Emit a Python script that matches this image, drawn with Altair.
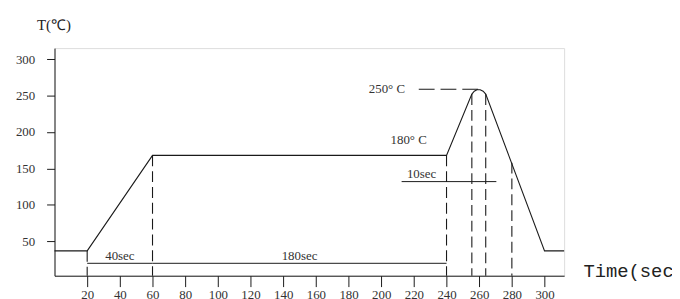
import altair as alt
import pandas as pd

# Temperature profile (time in sec, temperature in °C)
profile_time = [0, 20, 60, 240, 255.5, 257, 258.6, 260.6, 262.4, 264, 300, 312]
profile_temp = [37, 37, 168, 168, 252, 256, 258, 258, 256, 252, 37, 37]

# Dashed vertical guide lines
guide_x = [20, 60, 240, 255.5, 264, 280]
guide_top = [37, 168, 168, 252, 252, 158]
guide_bottom = [3, 3, 3, 3, 3, 3]

# Solid interval lines (40sec, 180sec, 10sec)
span_x1 = [20, 60, 212.5]
span_x2 = [60, 240, 270.5]
span_y = [20, 20, 132]

# Dashed peak temperature line
peak_x1 = [223]
peak_x2 = [261]
peak_y = [258.5]

# Annotation texts
label_text = ["40sec", "180sec", "10sec", "180° C", "250° C"]
label_x = [40, 150, 224.7, 216.8, 203.5]
label_y = [30, 30, 142.7, 189, 258.5]

x_ticks = [20, 40, 60, 80, 100, 120, 140, 160, 180, 200, 220, 240, 260, 280, 300]
y_ticks = [50, 100, 150, 200, 250, 300]

INK = "#1a1a1a"
FONT = "Liberation Serif"

xs = alt.Scale(domain=[0, 312], nice=False, zero=False)
ys = alt.Scale(domain=[3, 315], nice=False, zero=False)

x_axis = alt.Axis(
    values=x_ticks, tickCount=len(x_ticks) + 5, title="Time(sec)", grid=False,
    tickSize=11, labelPadding=2, labelOverlap=False, labelFlush=False,
    labelFontSize=13, labelFont=FONT, labelColor="#333", domainColor=INK, tickColor=INK,
    titleFont="Liberation Mono", titleFontSize=19, titleFontWeight="normal", titleColor="#222",
    titleAnchor="start", titleAlign="left", titleBaseline="middle", titleX=534, titleY=-5,
)
y_axis = alt.Axis(
    values=y_ticks, tickCount=len(y_ticks) + 5, title="T(℃)", grid=False,
    tickSize=8, labelPadding=12, labelOverlap=False, labelFlush=False,
    labelFontSize=13, labelFont=FONT, labelColor="#333", domainColor=INK, tickColor=INK,
    titleFont=FONT, titleFontSize=15, titleFontWeight="normal", titleColor="#222",
    titleAngle=0, titleAlign="center", titleBaseline="middle", titleX=-1, titleY=-24,
)

profile = pd.DataFrame({"t": profile_time, "T": profile_temp})
guides = pd.DataFrame({"x": guide_x, "y": guide_top, "y2": guide_bottom})
spans = pd.DataFrame({"x": span_x1, "x2": span_x2, "y": span_y})
peak = pd.DataFrame({"x": peak_x1, "x2": peak_x2, "y": peak_y})
labels = pd.DataFrame({"text": label_text, "x": label_x, "y": label_y})

line = alt.Chart(profile).mark_line(color=INK, strokeWidth=1.1).encode(
    x=alt.X("t:Q", scale=xs, axis=x_axis),
    y=alt.Y("T:Q", scale=ys, axis=y_axis),
)
guide_rules = alt.Chart(guides).mark_rule(color=INK, strokeWidth=1.1, strokeDash=[11, 5]).encode(
    x="x:Q", y="y:Q", y2="y2:Q"
)
span_rules = alt.Chart(spans).mark_rule(color=INK, strokeWidth=1).encode(
    x="x:Q", x2="x2:Q", y="y:Q"
)
peak_rule = alt.Chart(peak).mark_rule(color=INK, strokeWidth=1.1, strokeDash=[16, 6]).encode(
    x="x:Q", x2="x2:Q", y="y:Q"
)
texts = alt.Chart(labels).mark_text(
    font=FONT, fontSize=13, color="#333", baseline="middle", align="center"
).encode(x="x:Q", y="y:Q", text="text:N")

chart = alt.layer(line, guide_rules, span_rules, peak_rule, texts).properties(
    width=515, height=230,
    autosize=alt.AutoSizeParams(type="none"),
    padding={"left": 47, "top": 39, "right": 109, "bottom": 22},
).configure_view(stroke=None).configure(background="white")

chart.save("out.html", embed_options={"renderer": "svg", "actions": False})
